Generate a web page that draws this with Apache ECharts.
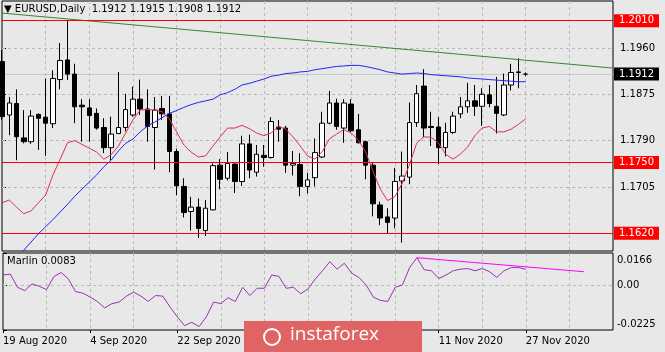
<!DOCTYPE html>
<html>
<head>
<meta charset="UTF-8">
<title>EURUSD Daily</title>
<script src="https://cdn.jsdelivr.net/npm/echarts@6/dist/echarts.min.js"></script>
<style>
  html, body { margin: 0; padding: 0; background: #e8e8e8; }
  #main { width: 665px; height: 352px; }
</style>
</head>
<body>
<div id="main"></div>
<script>
// trading days shown on the chart
var dates = ['19 Aug 2020','20 Aug 2020','21 Aug 2020','24 Aug 2020','25 Aug 2020','26 Aug 2020','27 Aug 2020','28 Aug 2020','31 Aug 2020',
  '1 Sep 2020','2 Sep 2020','3 Sep 2020','4 Sep 2020','7 Sep 2020','8 Sep 2020','9 Sep 2020','10 Sep 2020','11 Sep 2020','14 Sep 2020','15 Sep 2020',
  '16 Sep 2020','17 Sep 2020','18 Sep 2020','21 Sep 2020','22 Sep 2020','23 Sep 2020','24 Sep 2020','25 Sep 2020','28 Sep 2020','29 Sep 2020','30 Sep 2020',
  '1 Oct 2020','2 Oct 2020','5 Oct 2020','6 Oct 2020','7 Oct 2020','8 Oct 2020','9 Oct 2020','12 Oct 2020','13 Oct 2020','14 Oct 2020','15 Oct 2020',
  '16 Oct 2020','19 Oct 2020','20 Oct 2020','21 Oct 2020','22 Oct 2020','23 Oct 2020','26 Oct 2020','27 Oct 2020','28 Oct 2020','29 Oct 2020','30 Oct 2020',
  '2 Nov 2020','3 Nov 2020','4 Nov 2020','5 Nov 2020','6 Nov 2020','9 Nov 2020','10 Nov 2020','11 Nov 2020','12 Nov 2020','13 Nov 2020','16 Nov 2020',
  '17 Nov 2020','18 Nov 2020','19 Nov 2020','20 Nov 2020','23 Nov 2020','24 Nov 2020','25 Nov 2020','26 Nov 2020','27 Nov 2020'];

var open = [1.1935,1.1837,1.1858,1.1795,1.1788,1.1838,1.1833,1.1821,1.1902,1.1938,
  1.1912,1.1855,1.1850,1.1840,1.1814,1.1777,1.1803,1.1814,1.1837,1.1866,
  1.1848,1.1814,1.1849,1.1839,1.1770,1.1706,1.1660,1.1668,1.1625,1.1663,
  1.1745,1.1721,1.1747,1.1715,1.1784,1.1732,1.1763,1.1759,1.1815,1.1813,
  1.1745,1.1746,1.1706,1.1722,1.1760,1.1822,1.1859,1.1813,1.1857,1.1810,
  1.1788,1.1745,1.1672,1.1650,1.1648,1.1716,1.1723,1.1823,1.1890,1.1816,
  1.1815,1.1777,1.1805,1.1839,1.1852,1.1863,1.1853,1.1874,1.1853,1.1837,
  1.1892,1.1916,1.1912];
var high = [1.1956,1.1870,1.1884,1.1846,1.1846,1.1840,1.1904,1.1919,1.1969,1.2011,
  1.1931,1.1866,1.1866,1.1849,1.1831,1.1834,1.1916,1.1876,1.1889,1.1902,
  1.1884,1.1870,1.1872,1.1872,1.1775,1.1721,1.1687,1.1684,1.1681,1.1748,
  1.1756,1.1769,1.1748,1.1799,1.1801,1.1782,1.1782,1.1833,1.1828,1.1817,
  1.1771,1.1767,1.1731,1.1794,1.1843,1.1881,1.1867,1.1866,1.1866,1.1839,
  1.1790,1.1751,1.1678,1.1666,1.1740,1.1770,1.1860,1.1892,1.1921,1.1843,
  1.1833,1.1823,1.1843,1.1870,1.1896,1.1892,1.1886,1.1892,1.1907,1.1913,
  1.1931,1.1941,1.1915];
var low = [1.1828,1.1800,1.1754,1.1785,1.1784,1.1773,1.1762,1.1813,1.1884,1.1901,
  1.1822,1.1788,1.1788,1.1810,1.1767,1.1754,1.1802,1.1807,1.1834,1.1837,
  1.1788,1.1737,1.1828,1.1732,1.1690,1.1649,1.1625,1.1611,1.1615,1.1662,
  1.1701,1.1717,1.1694,1.1707,1.1721,1.1724,1.1742,1.1757,1.1788,1.1731,
  1.1726,1.1688,1.1693,1.1706,1.1758,1.1820,1.1810,1.1786,1.1806,1.1785,
  1.1719,1.1651,1.1635,1.1620,1.1629,1.1603,1.1710,1.1815,1.1796,1.1780,
  1.1747,1.1761,1.1802,1.1831,1.1841,1.1835,1.1817,1.1851,1.1803,1.1835,
  1.1882,1.1886,1.1908];
var close = [1.1834,1.1859,1.1797,1.1788,1.1835,1.1831,1.1822,1.1904,1.1937,1.1912,
  1.1852,1.1852,1.1836,1.1813,1.1777,1.1802,1.1814,1.1847,1.1866,1.1848,
  1.1816,1.1846,1.1839,1.1770,1.1707,1.1658,1.1668,1.1629,1.1666,1.1744,
  1.1719,1.1748,1.1715,1.1784,1.1736,1.1765,1.1759,1.1825,1.1811,1.1745,
  1.1748,1.1706,1.1718,1.1768,1.1822,1.1859,1.1816,1.1859,1.1808,1.1786,
  1.1745,1.1674,1.1648,1.1640,1.1715,1.1725,1.1823,1.1876,1.1813,1.1814,
  1.1777,1.1805,1.1835,1.1852,1.1863,1.1853,1.1875,1.1858,1.1840,1.1892,
  1.1915,1.1915,1.1912];

// moving averages (red fast, blue slow)
var maFast = [1.1676,1.1681,1.1668,1.1656,1.1661,1.1676,1.1690,1.1727,1.1756,1.1786,
  1.1790,1.1783,1.1776,1.1769,1.1756,1.1764,1.1780,1.1804,1.1828,1.1846,
  1.1847,1.1846,1.1843,1.1830,1.1806,1.1782,1.1769,1.1760,1.1762,1.1780,
  1.1797,1.1813,1.1813,1.1818,1.1812,1.1804,1.1799,1.1804,1.1816,1.1811,
  1.1797,1.1780,1.1762,1.1756,1.1769,1.1793,1.1802,1.1810,1.1804,1.1791,
  1.1769,1.1734,1.1701,1.1680,1.1687,1.1711,1.1745,1.1785,1.1797,1.1796,
  1.1786,1.1765,1.1756,1.1765,1.1778,1.1799,1.1813,1.1816,1.1806,1.1806,
  1.1811,1.1820,1.1830];
var maSlow = [1.1545,1.1560,1.1575,1.1589,1.1604,1.1619,1.1632,1.1645,1.1659,1.1673,
  1.1688,1.1701,1.1714,1.1727,1.1742,1.1754,1.1771,1.1785,1.1793,1.1806,
  1.1817,1.1824,1.1832,1.1840,1.1845,1.1851,1.1856,1.1860,1.1863,1.1866,
  1.1874,1.1878,1.1884,1.1892,1.1895,1.1899,1.1903,1.1908,1.1910,1.1913,
  1.1914,1.1916,1.1917,1.1920,1.1922,1.1924,1.1926,1.1927,1.1928,1.1928,
  1.1926,1.1923,1.1920,1.1916,1.1914,1.1912,1.1913,1.1914,1.1913,1.1911,
  1.1910,1.1909,1.1908,1.1907,1.1905,1.1904,1.1903,1.1902,1.1901,1.1900,
  1.1899,1.1898,1.1898];

// Marlin oscillator
var marlin = [0.0054,0.0059,-0.0008,-0.0025,0.0009,-0.0003,-0.0020,0.0046,0.0067,0.0034,
  -0.0030,-0.0038,-0.0058,-0.0080,-0.0113,-0.0091,-0.0083,-0.0053,-0.0033,-0.0053,
  -0.0080,-0.0050,-0.0053,-0.0108,-0.0158,-0.0203,-0.0186,-0.0208,-0.0158,-0.0083,
  -0.0091,-0.0061,-0.0080,-0.0008,-0.0050,-0.0013,-0.0013,0.0054,0.0047,-0.0013,
  -0.0008,-0.0041,-0.0016,0.0034,0.0076,0.0122,0.0084,0.0114,0.0064,0.0042,
  0.0004,-0.0058,-0.0075,-0.0080,-0.0008,0.0004,0.0092,0.0142,0.0081,0.0076,
  0.0037,0.0054,0.0076,0.0084,0.0087,0.0076,0.0087,0.0071,0.0042,0.0076,
  0.0092,0.0092,0.0083];

// drawn objects
var levels = [1.2010, 1.1750, 1.1620];
var greenTrend = [[0, 1.2024], [84, 1.1923]];
var marlinTrend = [[57, 0.0142], [80, 0.0071]];
var priceTicks = [1.1960, 1.1875, 1.1790, 1.1705];
var marlinTicks = [0.0166, 0, -0.0225];

var FONT = 'DejaVu Sans';
var last = dates.length - 1;

var candles = dates.map(function (d, i) { return [i, open[i], close[i], low[i], high[i]]; });
var fastLine = maFast.map(function (v, i) { return [i, v]; });
var slowLine = maSlow.map(function (v, i) { return [i, v]; });
var marlinLine = marlin.map(function (v, i) { return [i, v]; });

var myChart = echarts.init(document.getElementById('main'));

var dashed = { color: '#b9b9b9', type: [3, 3], width: 1 };

var gridLines = priceTicks.map(function (v) {
  return { yAxis: v, lineStyle: dashed, label: { show: false } };
});
gridLines.push({
  yAxis: close[last],
  lineStyle: { color: '#c6c6c6', type: 'solid', width: 1 },
  label: {
    show: true, position: 'end', distance: 1,
    formatter: function (p) { return Number(p.value).toFixed(4); },
    backgroundColor: '#000', color: '#fff', padding: [1, 5, 1, 5],
    fontFamily: FONT, fontSize: 10, lineHeight: 11
  }
});

var option = {
  backgroundColor: '#e8e8e8',
  animation: false,
  title: [
    {
      text: '\u25BC EURUSD,Daily  ' + [open[last], high[last], low[last], close[last]].map(function (v) { return v.toFixed(4); }).join(' '),
      left: 4, top: 4, padding: 0,
      textStyle: { fontFamily: FONT, fontSize: 10, fontWeight: 'normal', color: '#000' }
    },
    {
      text: 'Marlin ' + marlin[last].toFixed(4),
      left: 7, top: 256, padding: 0,
      textStyle: { fontFamily: FONT, fontSize: 10, fontWeight: 'normal', color: '#000' }
    }
  ],
  grid: [
    { left: 2, right: 52, top: 1, height: 250, show: true, borderColor: '#000', borderWidth: 1 },
    { left: 2, right: 52, top: 253, height: 77, show: true, borderColor: '#000', borderWidth: 1 }
  ],
  xAxis: [
    {
      type: 'value', gridIndex: 0, min: 0, max: 84, interval: 6,
      axisLine: { show: false }, axisTick: { show: false }, axisLabel: { show: false },
      splitLine: { show: true, showMinLine: false, showMaxLine: false, lineStyle: dashed }
    },
    {
      type: 'value', gridIndex: 1, min: 0, max: 84, interval: 6,
      axisLine: { show: false }, axisTick: { show: false }, axisLabel: { show: false },
      splitLine: { show: true, showMinLine: false, showMaxLine: false, lineStyle: dashed }
    },
    {
      type: 'value', gridIndex: 1, min: 0, max: 84, interval: 12, position: 'bottom',
      axisLine: { show: false },
      axisTick: { show: true, length: 3, lineStyle: { color: '#000' } },
      axisLabel: {
        show: true, showMaxLabel: false, align: 'left', margin: 6,
        fontFamily: FONT, fontSize: 10, color: '#000',
        formatter: function (v) { return dates[v] || ''; }
      },
      splitLine: { show: false }
    }
  ],
  yAxis: [
    {
      type: 'value', gridIndex: 0, position: 'right', min: 1.15875, max: 1.20461,
      axisLine: { show: false },
      axisTick: { show: true, length: 4, customValues: priceTicks, lineStyle: { color: '#000' } },
      axisLabel: {
        customValues: priceTicks, margin: 7, fontFamily: FONT, fontSize: 10, color: '#000',
        formatter: function (v) { return v.toFixed(4); }
      },
      splitLine: { show: false }
    },
    {
      type: 'value', gridIndex: 1, position: 'right', min: -0.0225, max: 0.0166,
      axisLine: { show: false },
      axisTick: { show: true, length: 4, customValues: marlinTicks, lineStyle: { color: '#000' } },
      axisLabel: {
        customValues: marlinTicks, margin: 4,
        formatter: function (v) {
          if (v > 0) return '{t|' + v.toFixed(4) + '}';
          if (v < 0) return '{b|' + v.toFixed(4) + '}';
          return '{m|0.00}';
        },
        rich: {
          t: { fontFamily: FONT, fontSize: 10, color: '#000', padding: [14, 0, 0, 0] },
          b: { fontFamily: FONT, fontSize: 10, color: '#000', padding: [0, 0, 12, 0] },
          m: { fontFamily: FONT, fontSize: 10, color: '#000' }
        }
      },
      splitLine: { show: false }
    }
  ],
  series: [
    {
      name: 'EURUSD', type: 'candlestick', xAxisIndex: 0, yAxisIndex: 0,
      data: candles, barWidth: 5, z: 2, silent: true,
      itemStyle: {
        color: '#ffffff', color0: '#000000',
        borderColor: '#000000', borderColor0: '#000000', borderColorDoji: '#000000', borderWidth: 1
      },
      markLine: {
        silent: true, symbol: ['none', 'none'], z: 6, precision: 5,
        lineStyle: { color: '#ff0000', width: 1, type: 'solid' },
        label: {
          show: true, position: 'end', distance: 1,
          formatter: function (p) { return Number(p.value).toFixed(4); },
          backgroundColor: '#ff0000', color: '#fff', padding: [1, 5, 1, 5],
          fontFamily: FONT, fontSize: 10, lineHeight: 11
        },
        data: levels.map(function (v) { return { yAxis: v }; })
      }
    },
    {
      name: 'MA slow', type: 'line', xAxisIndex: 0, yAxisIndex: 0, data: slowLine,
      showSymbol: false, silent: true, z: 4,
      lineStyle: { color: '#2222ff', width: 1 },
      markLine: { silent: true, symbol: ['none', 'none'], z: 1, precision: 5, data: gridLines }
    },
    {
      name: 'MA fast', type: 'line', xAxisIndex: 0, yAxisIndex: 0, data: fastLine,
      showSymbol: false, silent: true, z: 4,
      lineStyle: { color: '#e0304f', width: 1 }
    },
    {
      name: 'Trend', type: 'line', xAxisIndex: 0, yAxisIndex: 0, data: greenTrend,
      showSymbol: false, silent: true, z: 5,
      lineStyle: { color: '#2f8a2f', width: 1 }
    },
    {
      name: 'Marlin', type: 'line', xAxisIndex: 1, yAxisIndex: 1, data: marlinLine,
      showSymbol: false, silent: true, z: 4,
      lineStyle: { color: '#9a32b0', width: 1 },
      markLine: {
        silent: true, symbol: ['none', 'none'], z: 1, precision: 5,
        data: [{ yAxis: 0, lineStyle: dashed, label: { show: false } }]
      }
    },
    {
      name: 'Marlin trend', type: 'line', xAxisIndex: 1, yAxisIndex: 1, data: marlinTrend,
      showSymbol: false, silent: true, z: 5,
      lineStyle: { color: '#ff00ff', width: 1 }
    }
  ],
  graphic: [
    {
      type: 'group', left: 244, top: 321, z: 100, zlevel: 1, silent: true,
      children: [
        { type: 'rect', z: 100, zlevel: 1, shape: { x: 0, y: 0, width: 178, height: 32 }, style: { fill: '#e06464' } },
        { type: 'circle', z: 101, zlevel: 1, shape: { cx: 28, cy: 16, r: 8 }, style: { fill: 'none', stroke: '#fff', lineWidth: 2 } },
        { type: 'text', z: 101, zlevel: 1, x: 46, y: 4, style: { text: 'instaforex', fill: '#fff', font: '19px "Open Sans"' } }
      ]
    }
  ]
};

myChart.setOption(option);
</script>
</body>
</html>
